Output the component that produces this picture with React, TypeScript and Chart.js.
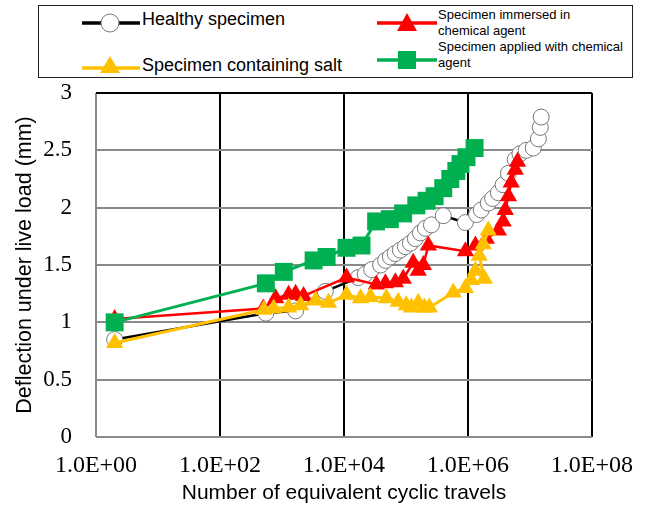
import React, { useEffect, useRef } from "react";
import { Chart, registerables } from "chart.js";

Chart.register(...registerables);

// ---- data ----
const healthyN = [2, 550, 1660, 5000, 17000, 22000, 28000, 39000, 47000, 56000, 67000, 81000, 98000, 118000, 142000, 171000, 206000, 258000, 400000, 910000, 1380000, 1640000, 2130000, 2500000, 3100000, 3700000, 4500000, 5800000, 6900000, 8700000, 11300000, 13700000, 14700000, 15200000];
const healthyD = [0.85, 1.08, 1.1, 1.27, 1.39, 1.42, 1.46, 1.5, 1.54, 1.57, 1.6, 1.63, 1.66, 1.69, 1.73, 1.78, 1.82, 1.85, 1.93, 1.87, 1.94, 1.98, 2.04, 2.08, 2.13, 2.2, 2.3, 2.42, 2.47, 2.5, 2.52, 2.6, 2.7, 2.79];

const immersedN = [2, 500, 790, 1280, 1660, 2230, 11000, 33300, 46600, 67500, 90500, 131000, 158000, 191000, 230000, 912000, 1320000, 1980000, 3100000, 3700000, 4000000, 4500000, 5000000, 5800000, 6300000];
const immersedD = [1.03, 1.12, 1.21, 1.24, 1.25, 1.23, 1.39, 1.33, 1.34, 1.35, 1.38, 1.52, 1.45, 1.5, 1.67, 1.62, 1.67, 1.73, 1.8, 1.88, 1.98, 2.1, 2.22, 2.33, 2.4];

const saltN = [2, 507, 735, 1280, 2000, 3490, 5640, 11000, 18500, 26700, 48400, 75000, 101000, 122000, 158000, 198000, 239000, 580000, 912000, 1130000, 1320000, 1840000, 1520000, 1770000, 2130000];
const saltD = [0.82, 1.11, 1.12, 1.13, 1.15, 1.19, 1.17, 1.24, 1.21, 1.22, 1.21, 1.18, 1.15, 1.13, 1.17, 1.13, 1.13, 1.26, 1.3, 1.37, 1.45, 1.38, 1.58, 1.68, 1.8];

const appliedN = [2, 550, 1070, 3240, 5250, 11000, 19200, 33000, 55000, 90000, 147000, 215000, 290000, 400000, 520000, 650000, 758000, 947000, 1280000];
const appliedD = [1.0, 1.34, 1.44, 1.54, 1.57, 1.65, 1.67, 1.88, 1.9, 1.95, 2.02, 2.06, 2.1, 2.17, 2.25, 2.32, 2.38, 2.44, 2.52];

const xTickValues = [1, 1e2, 1e4, 1e6, 1e8];
const yMin = 0;
const yMax = 3;
const yStep = 0.5;

const seriesLabels = [
  "Healthy specimen",
  "Specimen immersed in chemical agent",
  "Specimen containing salt",
  "Specimen applied with chemical agent",
];

const toPoints = (xs: number[], ys: number[]) => xs.map((x, i) => ({ x, y: ys[i] }));

const GRAY = "#8a8a8a";
const RED = "#ff0000";
const ORANGE = "#ffc000";
const GREEN = "#00b050";
const SANS = "'Liberation Sans', Arial, sans-serif";
const SERIF = "'Liberation Serif', 'Times New Roman', serif";

function fmtExp(v: number) {
  const e = Math.round(Math.log10(v));
  return "1.0E+" + (e < 10 ? "0" + e : String(e));
}

function Legend() {
  return (
    <div style={{ position: "absolute", left: 0, top: 0, width: 647, height: 90, pointerEvents: "none" }}>
      <div
        style={{
          position: "absolute",
          left: 38,
          top: 5,
          width: 593,
          height: 71,
          border: "1px solid #222",
          background: "#fff",
        }}
      />
      <svg width={647} height={90} style={{ position: "absolute", left: 0, top: 0 }}>
        <line x1={82} y1={23} x2={140} y2={23} stroke="#000" strokeWidth={3.5} />
        <circle cx={110} cy={23} r={9} fill="#fff" stroke="#777" strokeWidth={1} />
        <line x1={82} y1={68} x2={140} y2={68} stroke={ORANGE} strokeWidth={3.5} />
        <polygon points="110,56 120,73 100,73" fill={ORANGE} />
        <line x1={377} y1={23} x2={437} y2={23} stroke={RED} strokeWidth={3.5} />
        <polygon points="407,13 417,31 397,31" fill={RED} />
        <line x1={377} y1={60} x2={437} y2={60} stroke={GREEN} strokeWidth={3.5} />
        <rect x={398} y={51} width={18} height={18} fill={GREEN} />
      </svg>
      <div style={{ position: "absolute", left: 142, top: 8, font: `18px ${SANS}`, lineHeight: "22px", color: "#000", whiteSpace: "nowrap" }}>
        {seriesLabels[0]}
      </div>
      <div style={{ position: "absolute", left: 142, top: 54, font: `18px ${SANS}`, lineHeight: "22px", color: "#000", whiteSpace: "nowrap" }}>
        {seriesLabels[2]}
      </div>
      <div style={{ position: "absolute", left: 438, top: 7, font: `13px ${SANS}`, lineHeight: "16px", color: "#000", whiteSpace: "nowrap" }}>
        Specimen immersed in<br />chemical agent
      </div>
      <div style={{ position: "absolute", left: 438, top: 39, font: `13px ${SANS}`, lineHeight: "16px", color: "#000", whiteSpace: "nowrap" }}>
        Specimen applied with chemical<br />agent
      </div>
    </div>
  );
}

export default function App() {
  const canvasRef = useRef<HTMLCanvasElement | null>(null);

  useEffect(() => {
    const canvas = canvasRef.current;
    if (!canvas) return;
    const chart = new Chart(canvas, {
      type: "line",
      data: {
        datasets: [
          {
            label: seriesLabels[0],
            data: toPoints(healthyN, healthyD),
            borderColor: "#000",
            borderWidth: 2.5,
            pointStyle: "circle",
            pointRadius: 8,
            pointBackgroundColor: "#fff",
            pointBorderColor: "#777",
            pointBorderWidth: 1,
            order: 4,
          },
          {
            label: seriesLabels[1],
            data: toPoints(immersedN, immersedD),
            borderColor: RED,
            borderWidth: 2.5,
            pointStyle: "triangle",
            pointRadius: 10,
            pointBackgroundColor: RED,
            pointBorderColor: RED,
            pointBorderWidth: 0,
            order: 3,
          },
          {
            label: seriesLabels[2],
            data: toPoints(saltN, saltD),
            borderColor: ORANGE,
            borderWidth: 3,
            pointStyle: "triangle",
            pointRadius: 10,
            pointBackgroundColor: ORANGE,
            pointBorderColor: ORANGE,
            pointBorderWidth: 0,
            order: 2,
          },
          {
            label: seriesLabels[3],
            data: toPoints(appliedN, appliedD),
            borderColor: GREEN,
            borderWidth: 3,
            pointStyle: "rect",
            pointRadius: 12.7,
            pointBackgroundColor: GREEN,
            pointBorderColor: GREEN,
            pointBorderWidth: 0,
            order: 1,
          },
        ],
      },
      options: {
        animation: false,
        responsive: false,
        devicePixelRatio: 1,
        parsing: false as any,
        layout: { padding: { top: 93, right: 54, left: 0, bottom: 0 } },
        plugins: { legend: { display: false }, tooltip: { enabled: false } },
        elements: { line: { tension: 0 } },
        scales: {
          x: {
            type: "logarithmic",
            min: 1,
            max: 1e8,
            afterBuildTicks: (scale: any) => {
              scale.ticks = xTickValues.map((v) => ({ value: v }));
            },
            afterFit: (scale: any) => {
              scale.height = 69;
            },
            ticks: {
              autoSkip: false,
              maxRotation: 0,
              padding: 14,
              color: "#000",
              font: { family: SERIF, size: 24 },
              callback: (v: any) => fmtExp(Number(v)),
            },
            grid: {
              drawTicks: false,
              lineWidth: 2,
              color: (ctx: any) => (ctx.tick && ctx.tick.value === 1 ? GRAY : "#000"),
            },
            border: { display: false },
            title: {
              display: true,
              text: "Number of equivalent cyclic travels",
              color: "#000",
              font: { family: SANS, size: 21 },
              padding: { top: 0, bottom: 0 },
            },
          },
          y: {
            type: "linear",
            min: yMin,
            max: yMax,
            ticks: {
              stepSize: yStep,
              padding: 24,
              color: "#000",
              font: { family: SERIF, size: 23 },
              callback: (v: any) => String(v),
            },
            afterFit: (scale: any) => {
              scale.width = 96;
            },
            grid: {
              drawTicks: false,
              lineWidth: 2,
              color: (ctx: any) => (ctx.tick && ctx.tick.value === 3 ? "#000" : GRAY),
            },
            border: { display: false },
            title: {
              display: true,
              text: "Deflection under live load (mm)",
              color: "#000",
              font: { family: SANS, size: 21.5 },
              padding: { top: 12, bottom: 0 },
            },
          },
        },
      } as any,
    });
    return () => chart.destroy();
  }, []);

  return (
    <div style={{ position: "absolute", left: 0, top: 0, width: 647, height: 506, background: "#fff" }}>
      <canvas ref={canvasRef} width={647} height={506} style={{ position: "absolute", left: 0, top: 0, width: 647, height: 506 }} />
      <Legend />
    </div>
  );
}
